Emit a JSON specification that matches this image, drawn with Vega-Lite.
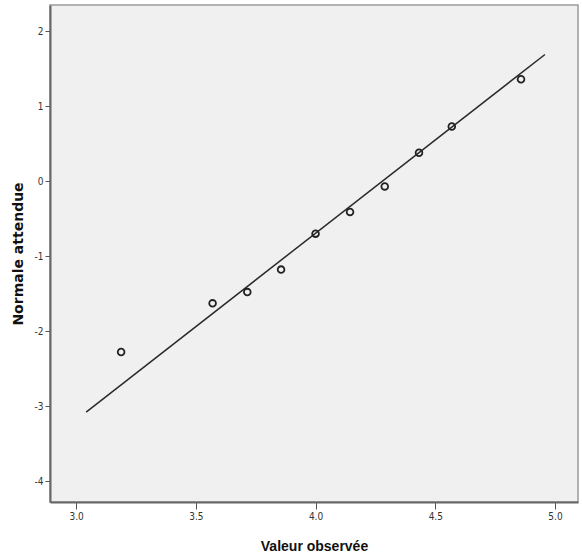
{
  "$schema": "https://vega.github.io/schema/vega-lite/v6.json",
  "width": 528,
  "height": 497,
  "autosize": {"type": "none"},
  "padding": {"left": 50, "top": 5, "right": 4, "bottom": 58},
  "background": "white",
  "config": {
    "view": {"fill": "#f0f0f0", "stroke": "#9a9a9a", "strokeWidth": 1.5},
    "axis": {
      "labelFont": "Liberation Sans Narrow, DejaVu Sans Condensed, sans-serif",
      "labelFontSize": 10,
      "labelColor": "#333333",
      "titleFont": "Liberation Sans, Arial, sans-serif",
      "titleFontWeight": "bold",
      "titleFontSize": 13,
      "titleColor": "#111111",
      "domainColor": "#666666",
      "domainWidth": 2,
      "tickColor": "#555555",
      "grid": false
    }
  },
  "datasets": {
    "pts": [
      {"obs": 3.188, "exp": -2.28},
      {"obs": 3.570, "exp": -1.63},
      {"obs": 3.715, "exp": -1.48},
      {"obs": 3.856, "exp": -1.18},
      {"obs": 4.000, "exp": -0.70},
      {"obs": 4.144, "exp": -0.41},
      {"obs": 4.289, "exp": -0.07},
      {"obs": 4.432, "exp": 0.38},
      {"obs": 4.569, "exp": 0.73},
      {"obs": 4.858, "exp": 1.36}
    ],
    "ref": [
      {"obs": 3.042, "exp": -3.08},
      {"obs": 4.958, "exp": 1.69}
    ]
  },
  "layer": [
    {
      "data": {"name": "ref"},
      "mark": {"type": "line", "color": "#2a2a2a", "strokeWidth": 1.5},
      "encoding": {
        "x": {"field": "obs", "type": "quantitative"},
        "y": {"field": "exp", "type": "quantitative"}
      }
    },
    {
      "data": {"name": "pts"},
      "mark": {"type": "point", "shape": "circle", "filled": false, "size": 45, "strokeWidth": 1.8, "color": "#222222", "opacity": 1},
      "encoding": {
        "x": {
          "field": "obs", "type": "quantitative",
          "scale": {"domain": [2.891, 5.096], "nice": false, "zero": false},
          "axis": {"title": "Valeur observée", "values": [3.0, 3.5, 4.0, 4.5, 5.0], "format": ".1f", "tickSize": 7, "labelPadding": 2, "titlePadding": 18, "titleFont": "Liberation Sans Narrow, Liberation Sans, sans-serif", "titleFontSize": 14}
        },
        "y": {
          "field": "exp", "type": "quantitative",
          "scale": {"domain": [-4.28, 2.35], "nice": false, "zero": false},
          "axis": {"title": "Normale attendue", "values": [-4, -3, -2, -1, 0, 1, 2], "labelExpr": "datum.value < 0 ? '-' + abs(datum.value) : '' + datum.value", "tickSize": 5, "labelPadding": 2, "titlePadding": 9, "titleFont": "DejaVu Sans, sans-serif", "titleFontSize": 14}
        }
      }
    }
  ]
}
